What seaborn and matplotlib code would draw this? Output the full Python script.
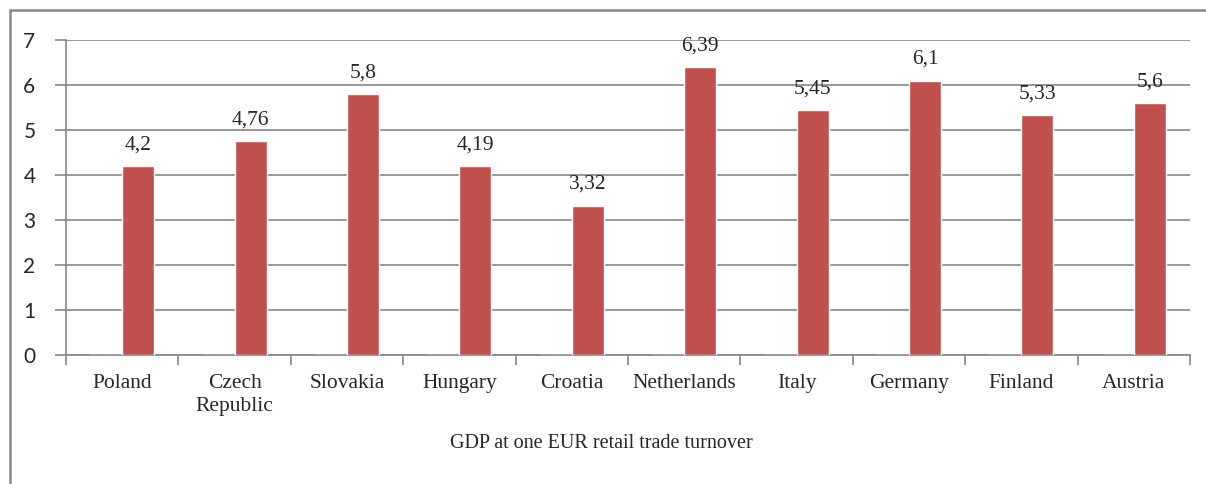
import matplotlib
matplotlib.use('Agg')
import matplotlib.pyplot as plt
from matplotlib.patches import Rectangle
import numpy as np
import pandas as pd
import seaborn as sns

countries = ['Poland', 'Czech\nRepublic', 'Slovakia', 'Hungary', 'Croatia',
             'Netherlands', 'Italy', 'Germany', 'Finland', 'Austria']
values = [4.2, 4.76, 5.8, 4.19, 3.32, 6.39, 5.45, 6.1, 5.33, 5.6]
labels = ['4,2', '4,76', '5,8', '4,19', '3,32', '6,39', '5,45', '6,1', '5,33', '5,6']
yticks = [0, 1, 2, 3, 4, 5, 6, 7]

# Excel-style clustered layout: an empty first series pushes the real bars right
df = pd.concat([
    pd.DataFrame({'country': countries, 'value': 0.0, 'series': 'empty'}),
    pd.DataFrame({'country': countries, 'value': values, 'series': 'gdp'}),
])

sns.set_style('white')
serif = ['Liberation Serif', 'DejaVu Serif']
sans = ['Lato', 'DejaVu Sans']
grid_col = '#868686'

fig = plt.figure(figsize=(12.06, 4.84), dpi=100)
ax = fig.add_axes([66 / 1206, 1 - 355 / 484, (1190 - 66) / 1206, (355 - 40) / 484])

sns.barplot(data=df, x='country', y='value', hue='series', hue_order=['empty', 'gdp'],
            palette={'empty': 'none', 'gdp': '#C0504D'}, width=0.57, gap=0,
            saturation=1, ax=ax, legend=False, zorder=3)

gdp_bars = ax.containers[1]
for bar, lab in zip(gdp_bars, labels):
    ax.annotate(lab, (bar.get_x() + bar.get_width() / 2, bar.get_height()),
                xytext=(0, 12), textcoords='offset points',
                ha='center', va='baseline', family=serif, fontsize=15.5)

ax.set_ylim(0, 7)
ax.set_xlim(-0.5, len(countries) - 0.5)
ax.set_yticks(yticks)
ax.set_yticklabels([str(t) for t in yticks], family=sans, fontsize=15)
ax.yaxis.grid(True, color=grid_col, linewidth=1.2, zorder=0)
ax.set_axisbelow(True)
ax.tick_params(axis='y', length=8, width=1.2, color=grid_col, direction='out', pad=14, left=True)

ax.set_xticks(range(len(countries)))
ax.set_xticklabels(countries, family=serif, fontsize=15.5, linespacing=1.25)
ax.set_xticks(np.arange(-0.5, len(countries)), minor=True)
ax.tick_params(axis='x', which='major', length=0, pad=14)
ax.tick_params(axis='x', which='minor', length=7, width=1.2, color=grid_col, direction='out', bottom=True)

for s in ['top', 'right']:
    ax.spines[s].set_visible(False)
for s in ['left', 'bottom']:
    ax.spines[s].set_color(grid_col)
    ax.spines[s].set_linewidth(1.2)

ax.set_xlabel('')
ax.set_ylabel('')
fig.text(601 / 1206, 1 - 443 / 484, 'GDP at one EUR retail trade turnover',
         ha='center', va='center', family=serif, fontsize=14.5)

fig.patches.append(Rectangle((10 / 1206, -0.1), 1.2, 1 - 10 / 484 + 0.1,
                             transform=fig.transFigure, fill=False,
                             edgecolor=grid_col, linewidth=1.8))

fig.savefig('out.png', dpi=100)
